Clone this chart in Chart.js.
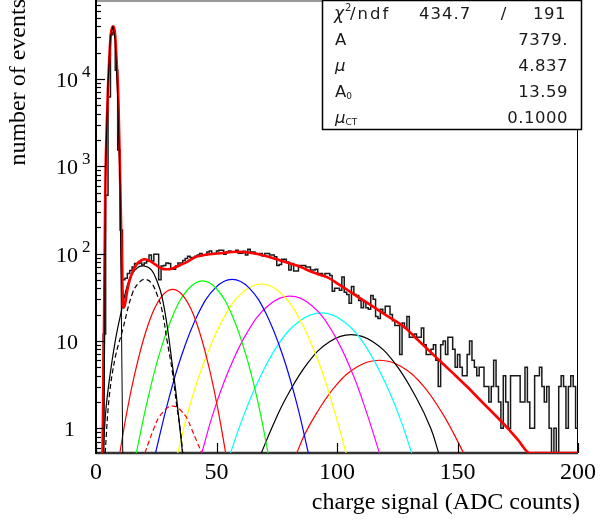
<!DOCTYPE html>
<html>
<head>
<meta charset="utf-8">
<script src="https://cdn.jsdelivr.net/npm/chart.js@4.4.1/dist/chart.umd.min.js"></script>
<style>
  html, body { margin: 0; padding: 0; background: #fff; }
</style>
</head>
<body>
<canvas id="c" width="601" height="520"></canvas>
<script>
// histogram: 1 ADC count per bin, bins 0..199
const binCounts = [
  0, 0, 0, 12, 465, 6200, 32000, 34000, 12600, 1530,
  186, 50, 52, 59, 64, 70, 77, 77, 78, 74,
  78, 82, 96, 82, 98, 98, 50, 72, 73, 78,
  77, 66, 66, 72, 78, 78, 83, 88, 93, 90,
  90, 93, 96, 100, 96, 96, 104, 107, 100, 100,
  107, 109, 109, 98, 104, 107, 104, 104, 109, 101,
  101, 106, 96, 112, 104, 104, 100, 98, 100, 94,
  100, 100, 96, 96, 92, 73, 75, 86, 86, 80,
  65, 77, 63, 63, 73, 73, 73, 70, 70, 65,
  65, 66, 59, 59, 56, 59, 59, 56, 37, 40,
  40, 38, 54, 36, 34, 27, 42, 34, 33, 29,
  24, 28, 24, 23, 33, 30, 19, 18, 23, 21,
  25, 25, 20, 17, 15, 15, 7, 16, 14, 19,
  11, 11, 12, 11, 11, 14, 9, 7, 7, 8,
  9, 6, 3, 9, 10, 7, 11, 11, 8, 5,
  7, 5, 4, 4, 7, 10, 6, 5, 4, 5,
  5, 3, 3, 2, 3, 6, 3, 2, 1, 4,
  2, 1, 4, 4, 4, 4, 2, 2, 5, 2,
  1, 1, 4, 4, 5, 3, 2, 3, 1, 0,
  1, 0, 3, 4, 3, 1, 3, 4, 3, 1
];

// total fit (thick red)
const fitCurve = [
  [2.7,0.52],[3.3,12],[3.8,410],[4.8,5700],[5.5,17000],[6.2,33000],[7.1,40000],[7.9,33000],
  [8.6,15000],[9.3,5700],[10.2,410],[11,38],[11.4,24],[12,26],[13,38],[14,50],[15,60],[17,76],
  [19,84],[20,86],[22,83],[24.5,75],[27,68],[29.5,66],[32,68],[35,74],[38,81],[41.2,91],[44,95],
  [47,98],[50,100],[53.5,102],[56,104],[59.3,105],[63,103],[67,99],[71.6,92],[75,86],[78,81],
  [81,76],[84,72],[87,66],[90,61],[93,57],[96.3,53],[100.4,45],[104.5,38],[109,31.5],[114,25.7],
  [120,20],[127.8,14.5],[134,9.95],[141.6,6.3],[148,4.3],[153.9,3.0],[160,2.02],[165,1.47],
  [170.4,1.03],[175,0.74],[180,0.52],[190,0.52],[200,0.52]
];

// single components
const compPed = [[3.3,0.52],[4,1000],[5,9000],[6,30000],[7,40000],[8,28000],[9,6000],[10,600],[11.1,0.52]];
const comp1 = [[3,0.52],[4,1.5],[5.5,3.5],[8,10],[10.3,20.5],[13.7,49.6],[17,68],[19.9,72],[23,65],
  [25.5,47],[27.4,32],[29.5,15],[31.6,5.5],[33,2.8],[34.3,1.35],[35.9,0.52]];
const comp1d = [[3.8,0.52],[5.5,2.3],[8,6.5],[11,13.2],[15.1,35],[18,47],[20.3,50.6],[23,46],
  [25.5,33],[27.4,22.4],[29.5,10],[31.6,4.6],[33.5,1.8],[35,0.95],[36,0.52]];
const comp2 = [[9.9,0.52],[12.8,1.53],[16.8,5.1],[21.8,15.8],[26.8,31],[31.8,38.8],[36.8,31],
  [41.8,15.8],[46.8,5.1],[50.8,1.53],[53.8,0.52]];
const comp2d = [[20.3,0.52],[22,0.71],[24,0.99],[25.8,1.29],[28,1.55],[29.8,1.73],[31.8,1.79],
  [33.8,1.73],[35.6,1.55],[37.8,1.29],[39.6,0.99],[41.8,0.71],[43.9,0.52]];
const comp3 = [[16.7,0.52],[21.2,1.99],[26.2,6.9],[32.2,20.4],[38.2,39],[44.2,48.6],[50.2,39],
  [56.2,20.4],[62.2,6.9],[67.2,1.99],[71.4,0.52]];
const comp4 = [[24.7,0.52],[29.5,1.83],[35.5,6.8],[42.5,20.7],[49.5,40.5],[56.5,50.6],[63.5,40.5],
  [70.5,20.7],[77.5,6.8],[83.5,1.83],[88.1,0.52]];
const comp5 = [[33.9,0.52],[38.6,1.69],[44.6,5.5],[52.6,17.6],[60.6,35.5],[68.6,44.8],[76.6,35.5],
  [84.6,17.6],[92.6,5.5],[98.6,1.69],[103.8,0.52]];
const comp6 = [[43.9,0.52],[48.5,1.45],[54.5,4.2],[62.5,12.2],[71.5,25.4],[80.5,32.5],[89.5,25.4],
  [98.5,12.2],[106.5,4.2],[112.5,1.45],[117.6,0.52]];
const comp7 = [[55.8,0.52],[60.5,1.22],[66.5,3.1],[75.5,9.0],[84.5,16.9],[93.5,20.9],[102.5,16.9],
  [111.5,9.0],[120.5,3.1],[126.5,1.22],[131,0.52]];
const comp8 = [[68.6,0.52],[72.9,1.0],[78.9,2.23],[87.9,5.6],[96.9,9.8],[105.9,11.8],[114.9,9.8],
  [123.9,5.6],[132.9,2.23],[138.9,1.0],[142.2,0.52]];
const comp9 = [[83.3,0.52],[86.6,0.85],[91.6,1.5],[99.6,3.1],[108.6,5.1],[117.6,6.0],[126.6,5.1],
  [135.6,3.1],[143.6,1.5],[148.6,0.85],[152.5,0.52]];

const yMin = 0.52, yMax = 78000;
const yLabelValues = [1, 10, 100, 1000, 10000];
const yLabelBase = ["1", "10", "10", "10", "10"];
const yLabelExp = ["", "", "2", "3", "4"];
const xTickValues = [0, 50, 100, 150, 200];

const statNames = [["A", ""], ["\u03bc", ""], ["A", "0"], ["\u03bc", "CT"]];
const statValues = ["7379.", "4.837", "13.59", "0.1000"];
const chi2 = "434.7", ndf = "191";

const toXY = pts => pts.map(p => ({ x: p[0], y: p[1] }));

const histData = [{ x: 0, y: yMin }];
binCounts.forEach((c, i) => histData.push({ x: i + 0.5, y: c > 0 ? c : yMin }));
histData.push({ x: 200, y: binCounts[199] > 0 ? binCounts[199] : yMin });

function compSet(pts, color, dash) {
  return {
    data: toXY(pts), borderColor: color, borderWidth: 1.2,
    borderDash: dash || [], tension: 0.4, pointRadius: 0
  };
}

const rootFrame = {
  id: "rootFrame",
  beforeDatasetsDraw(chart) {
    const ctx = chart.ctx, a = chart.chartArea;
    ctx.save();
    ctx.strokeStyle = "#777"; ctx.lineWidth = 1.5;
    ctx.beginPath(); ctx.moveTo(a.left, 1); ctx.lineTo(a.right, 1); ctx.stroke();
    ctx.strokeStyle = "#000"; ctx.lineWidth = 1;
    ctx.beginPath(); ctx.moveTo(a.right - 0.5, 1); ctx.lineTo(a.right - 0.5, a.bottom); ctx.stroke();
    ctx.strokeStyle = "#333"; ctx.lineWidth = 2.5;
    ctx.beginPath(); ctx.moveTo(a.left, a.bottom); ctx.lineTo(a.right, a.bottom); ctx.stroke();
    ctx.restore();
  },
  afterDatasetsDraw(chart) {
    const ctx = chart.ctx, xs = chart.scales.x, ys = chart.scales.y;
    const a = chart.chartArea;
    ctx.save();
    ctx.strokeStyle = "#000"; ctx.lineWidth = 2;
    ctx.beginPath(); ctx.moveTo(a.left, 0); ctx.lineTo(a.left, a.bottom + 1); ctx.stroke();

    // y ticks (inside)
    ctx.lineWidth = 1.2;
    for (let e = -1; e <= 4; e++) {
      for (let m = 1; m <= 9; m++) {
        const v = m * Math.pow(10, e);
        if (v < yMin || v > yMax) continue;
        const py = Math.round(ys.getPixelForValue(v)) + 0.5;
        ctx.beginPath(); ctx.moveTo(a.left, py); ctx.lineTo(a.left + (m === 1 ? 9 : 5), py); ctx.stroke();
      }
    }
    // x ticks (inside)
    xTickValues.forEach(v => {
      const px = Math.round(xs.getPixelForValue(v)) + 0.5;
      ctx.beginPath(); ctx.moveTo(px, a.bottom); ctx.lineTo(px, a.bottom - 10); ctx.stroke();
    });

    // y labels 10^n
    ctx.fillStyle = "#000";
    yLabelValues.forEach((v, i) => {
      const py = ys.getPixelForValue(v);
      ctx.font = "22px 'Liberation Serif'";
      ctx.textAlign = "right"; ctx.textBaseline = "alphabetic";
      ctx.fillText(yLabelBase[i], yLabelBase[i] === "1" ? 75 : 78, py + 8);
      if (yLabelExp[i]) {
        ctx.font = "17px 'Liberation Serif'";
        ctx.textAlign = "left";
        ctx.fillText(yLabelExp[i], 82, py - 2);
      }
    });

    // axis titles
    ctx.font = "24px 'Liberation Serif'";
    ctx.textAlign = "right"; ctx.textBaseline = "alphabetic";
    ctx.fillText("charge signal (ADC counts)", 580, 509);
    ctx.save();
    ctx.translate(25, -1);
    ctx.rotate(-Math.PI / 2);
    ctx.fillText("number of events", 0, 0);
    ctx.restore();

    // stats box
    const bx = 322.5, by = 0.5, bw = 259, bh = 129;
    ctx.fillStyle = "#fff"; ctx.fillRect(bx, by, bw, bh);
    ctx.strokeStyle = "#000"; ctx.lineWidth = 1.5; ctx.strokeRect(bx, by, bw, bh);
    ctx.fillStyle = "#1a1a1a";
    const rowY = [18.5, 45, 71, 97, 123];
    ctx.textAlign = "left";
    ctx.letterSpacing = "0px";
    ctx.font = "italic 17px 'DejaVu Sans'";
    ctx.fillText("\u03c7", 334, rowY[0]);
    ctx.font = "10px 'DejaVu Sans'";
    ctx.fillText("2", 345, rowY[0] - 8);
    ctx.font = "16.5px 'DejaVu Sans'";
    ctx.letterSpacing = "2px";
    ctx.fillText("/ndf", 350, rowY[0]);
    ctx.letterSpacing = "1px";
    ctx.fillText(chi2, 419, rowY[0]);
    ctx.textAlign = "center"; ctx.fillText("/", 504, rowY[0]);
    ctx.letterSpacing = "0.5px";
    ctx.textAlign = "right"; ctx.fillText(ndf, 566, rowY[0]);
    statNames.forEach((n, i) => {
      const y = rowY[i + 1];
      ctx.textAlign = "left";
      ctx.letterSpacing = "0px";
      ctx.font = (n[0] === "\u03bc" ? "italic " : "") + "16.5px 'DejaVu Sans'";
      ctx.fillText(n[0], 335, y);
      const w = ctx.measureText(n[0]).width;
      if (n[1]) {
        ctx.font = "9px 'DejaVu Sans'";
        ctx.fillText(n[1], 335 + w, y + 2);
      }
      ctx.font = "16.5px 'DejaVu Sans'";
      ctx.letterSpacing = "0.5px";
      ctx.textAlign = "right";
      ctx.fillText(statValues[i], 568, y);
    });
    ctx.restore();
  }
};

new Chart(document.getElementById("c"), {
  type: "line",
  data: {
    datasets: [
      { data: toXY(compPed), borderColor: "#000", borderWidth: 1, tension: 0, pointRadius: 0 },
      { data: toXY(fitCurve), borderColor: "#ff0000", borderWidth: 2.6, cubicInterpolationMode: "monotone", pointRadius: 0 },
      { data: histData, borderColor: "#1a1a1a", borderWidth: 1.5, stepped: "middle", pointRadius: 0 },
      compSet(comp1, "#000"),
      compSet(comp1d, "#000", [5, 3]),
      compSet(comp2, "#ff0000"),
      compSet(comp2d, "#ff0000", [5, 3]),
      compSet(comp3, "#00ff00"),
      compSet(comp4, "#0000ff"),
      compSet(comp5, "#ffff00"),
      compSet(comp6, "#ff00ff"),
      compSet(comp7, "#00ffff"),
      compSet(comp8, "#000"),
      compSet(comp9, "#ff0000")
    ]
  },
  options: {
    responsive: false,
    animation: false,
    layout: { padding: { top: 1, right: 19, left: 0, bottom: 0 } },
    plugins: { legend: { display: false }, tooltip: { enabled: false } },
    elements: { point: { radius: 0 } },
    scales: {
      x: {
        type: "linear", min: 0, max: 200, bounds: "data",
        grid: { display: false, drawTicks: false }, border: { display: false },
        ticks: {
          stepSize: 50, autoSkip: false, maxRotation: 0, padding: 5,
          color: "#000", font: { family: "Liberation Serif", size: 24 }
        },
        afterFit: s => { s.height = 67; }
      },
      y: {
        type: "logarithmic", min: yMin, max: yMax, bounds: "data",
        grid: { display: false, drawTicks: false }, border: { display: false },
        ticks: { display: false },
        afterFit: s => { s.width = 96; }
      }
    }
  },
  plugins: [rootFrame]
});
</script>
</body>
</html>
